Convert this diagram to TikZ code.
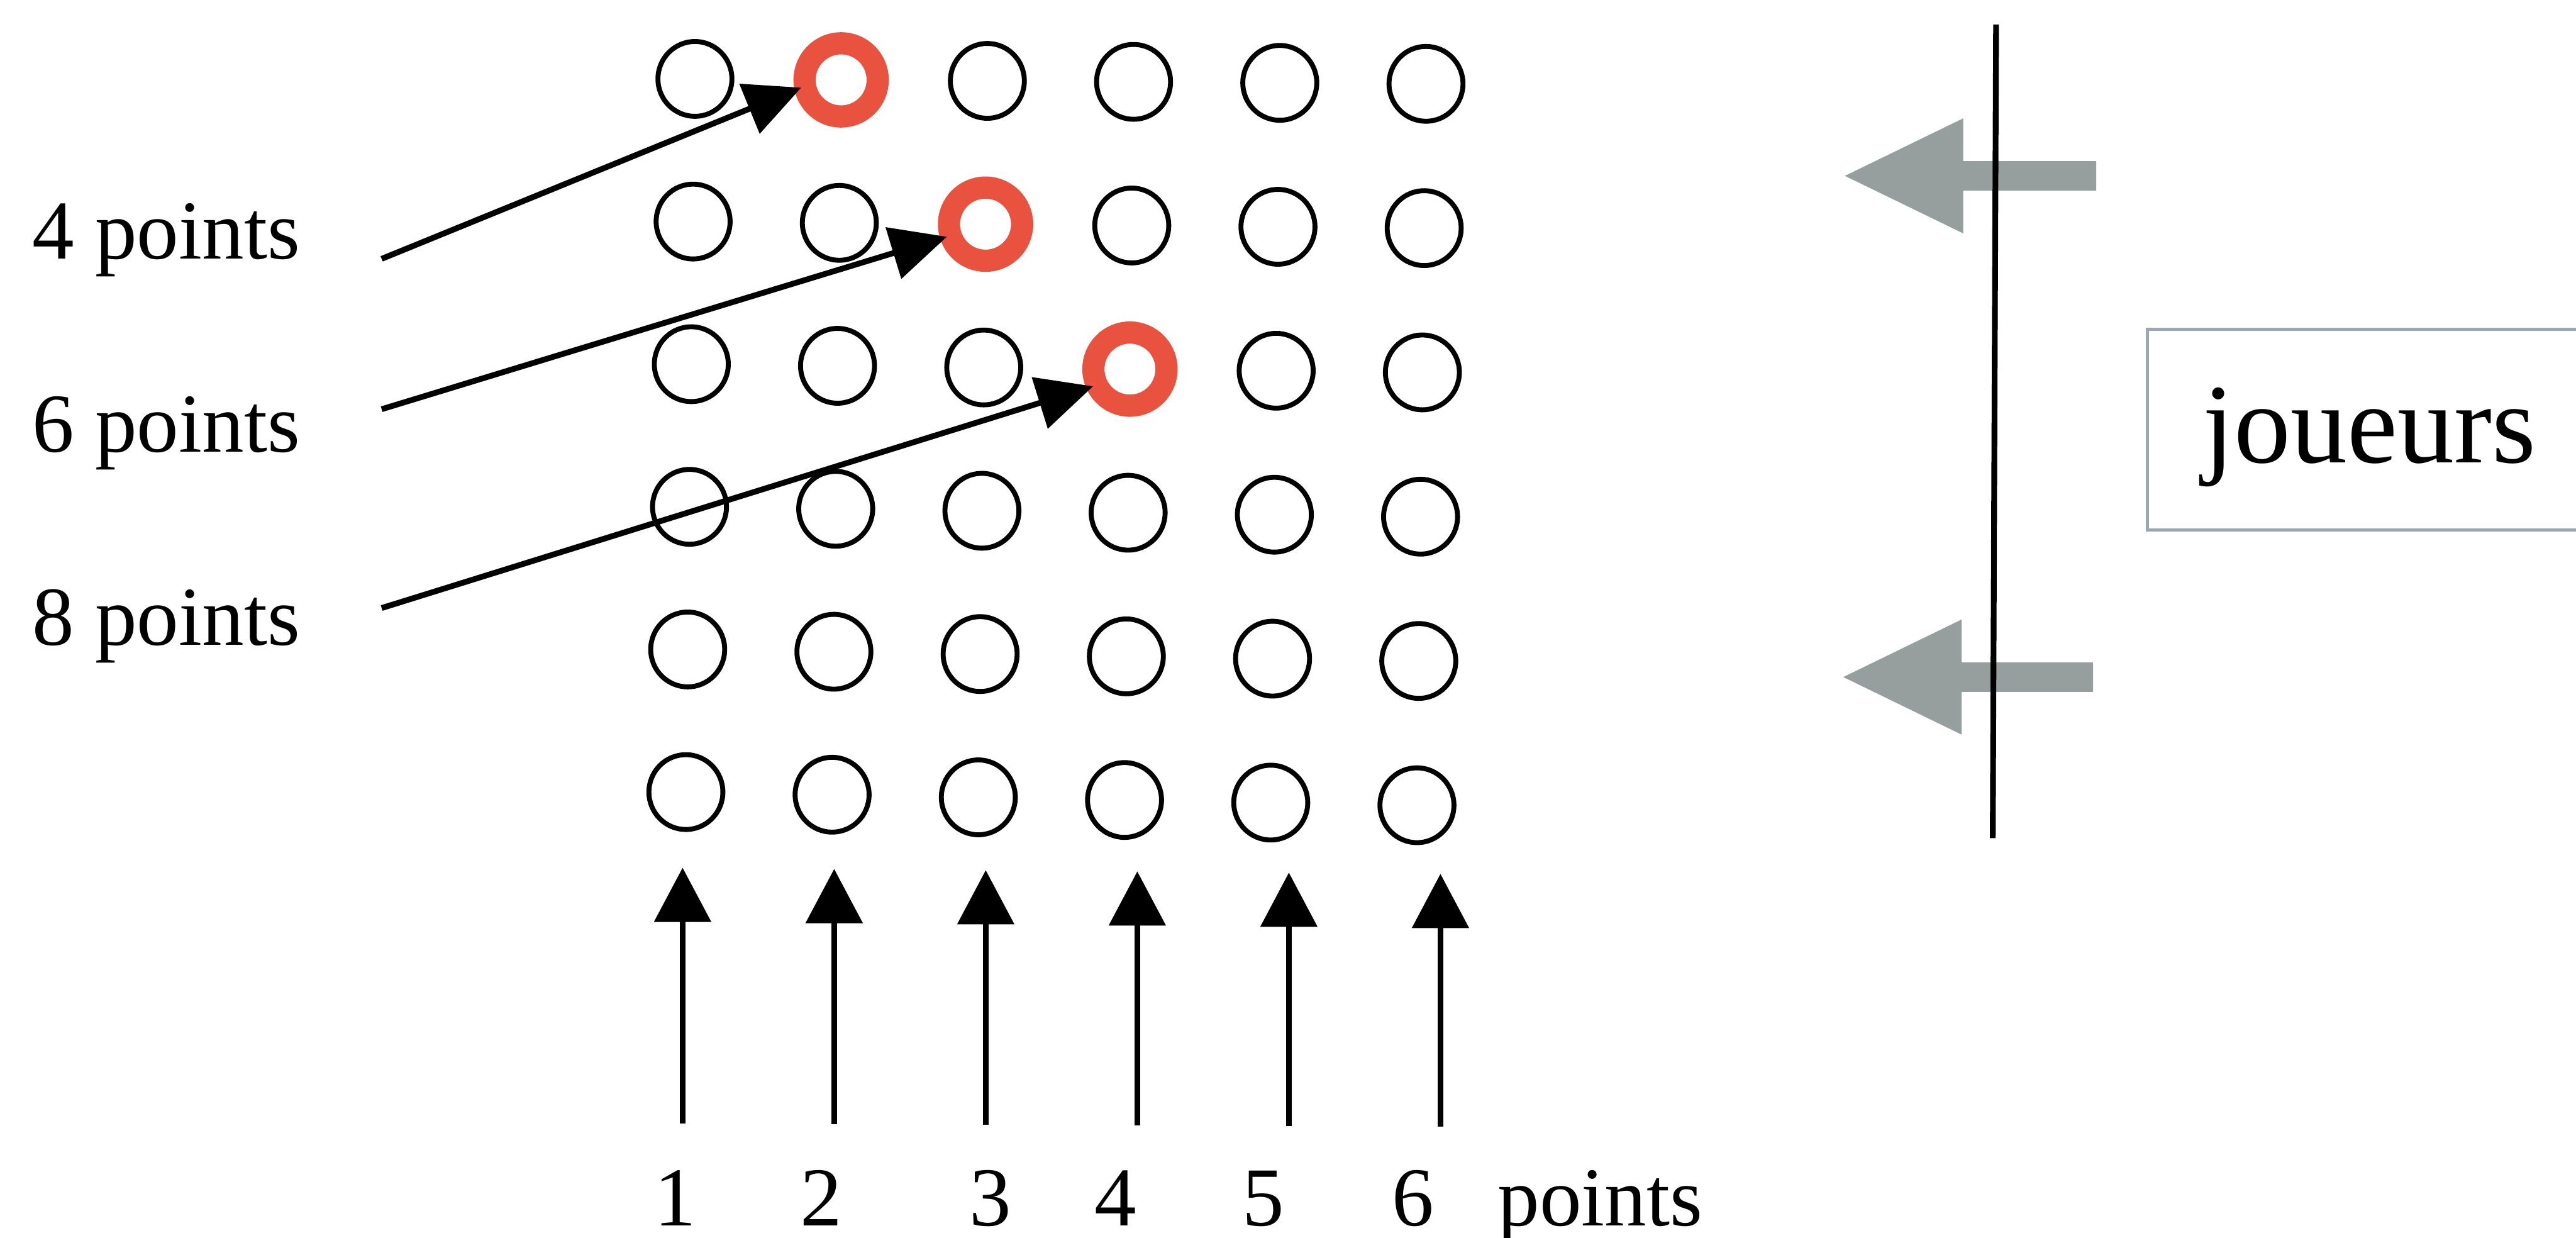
\documentclass[tikz,border=0pt]{standalone}
\usepackage{fontspec}
\setmainfont{Liberation Serif}
\usetikzlibrary{shapes.geometric,arrows.meta,calc}
\definecolor{ringred}{RGB}{234,82,64}
\definecolor{guidegrey}{RGB}{150,159,158}
\definecolor{boxline}{RGB}{152,166,182}
\begin{document}
\begin{tikzpicture}[x=0.01cm,y=-0.01cm,
  hole/.style={ellipse, draw=black, line width=0.03cm, inner sep=0pt,
    minimum width=0.45cm, minimum height=0.455cm},
  target/.style={ellipse, draw=ringred, line width=0.135cm, inner sep=0pt,
    outer sep=0.025cm, minimum width=0.445cm, minimum height=0.445cm},
  lbl/.style={font=\fontsize{14.5}{17}\selectfont, inner sep=0pt},
  pointer/.style={line width=0.035cm, -{Triangle[length=0.34cm,width=0.32cm]}},
  lift/.style={line width=0.036cm, -{Triangle[length=0.33cm,width=0.34cm]}},
  push/.style={fill=guidegrey, draw=none},
]
\fill[white] (0,0) rectangle (1568,753);
\useasboundingbox (0,0) rectangle (1568,753);
\clip (0,0) rectangle (1568,753);

% board of 6 x 6 holes (slightly skewed grid); the three targets are red rings
\foreach \r in {1,...,6}{
  \foreach \c in {1,...,6}{
    \pgfmathsetmacro\xx{423+89*(\c-1)-1.1*(\r-1)}
    \pgfmathsetmacro\yy{48+86.8*(\r-1)+(0.6+0.2*(\r-1))*(\c-1)}
    \ifnum\r<4
      \ifnum\c=\numexpr\r+1\relax
        \node[target] (c-\r-\c) at (\xx,\yy) {};
      \else
        \node[hole] (c-\r-\c) at (\xx,\yy) {};
      \fi
    \else
      \node[hole] (c-\r-\c) at (\xx,\yy) {};
    \fi
  }
}

% scores of the targets
\node[lbl, anchor=base west] (p4) at (19,157.5) {4 points};
\node[lbl, anchor=base west] (p6) at (19,275) {6 points};
\node[lbl, anchor=base west] (p8) at (19,392.5) {8 points};
\draw[pointer] ($(p4.base east)+(49,0)$) -- (c-1-2.191);
\draw[pointer] ($(p6.base east)+(49,-26)$) -- (c-2-3.198);
\draw[pointer] ($(p8.base east)+(49,-22.5)$) -- (c-3-4.205);

% column scores
\foreach \i in {1,...,6}{
  \pgfmathsetmacro\xx{415.5+92.26*(\i-1)}
  \coordinate (foot-\i) at (\xx,{683.5+0.45*(\i-1)});
  \coordinate (head-\i) at (\xx,{528+0.75*(\i-1)});
  \draw[lift] (foot-\i) -- (head-\i);
}
\node[lbl, anchor=base] (n1) at (411,746) {1};
\node[lbl, anchor=base] (n2) at (500,746) {2};
\node[lbl, anchor=base] (n3) at (603,746) {3};
\node[lbl, anchor=base] (n4) at (679,746) {4};
\node[lbl, anchor=base] (n5) at (769,746) {5};
\node[lbl, anchor=base] (n6) at (860,746) {6};
\node[lbl, anchor=base west] (unit) at (911,746) {points};

% throwing line and direction of the throws
\fill[push] (1123,107) -- (1195,72) -- (1195,98) -- (1276,98) -- (1276,116)
  -- (1195,116) -- (1195,142) -- cycle;
\fill[push] (1122,412) -- (1194,377) -- (1194,403) -- (1274,403) -- (1274,421)
  -- (1194,421) -- (1194,447) -- cycle;
\coordinate (rail-top) at (1215,15);
\coordinate (rail-bottom) at (1213,510);
\draw[line width=0.035cm] (rail-top) -- (rail-bottom);

% players
\node[draw=boxline, line width=0.02cm, anchor=north west, inner sep=0pt,
  minimum width=2.8cm, minimum height=1.22cm] (frame) at (1306,199.5) {};
\node[font=\fontsize{19.6}{23}\selectfont, anchor=base west, inner sep=0pt]
  (joueurs) at (1340,281.5) {joueurs};
\end{tikzpicture}
\end{document}
